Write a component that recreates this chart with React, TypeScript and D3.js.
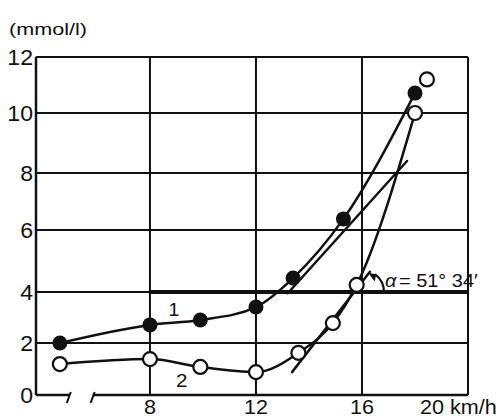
import React from "react";
import * as d3 from "d3";

// running speed (km/h) and blood lactate (mmol/l)
const speeds1 = [4.6, 8, 9.9, 12, 13.4, 15.3, 18];
const lactate1 = [2.0, 2.71, 2.9, 3.41, 4.45, 6.39, 10.71];
const speeds2 = [4.6, 8, 9.9, 12, 13.6, 14.9, 15.8, 18, 18.45];
const lactate2 = [1.19, 1.38, 1.08, 0.88, 1.62, 2.78, 4.23, 10.0, 11.2];
const curve2Count = 8; // last open point is not on the curve

// straight helper lines
const line1 = [
  [13.2, 3.95],
  [17.7, 8.4],
];
const tangent2 = [
  [13.36, 0.88],
  [16.3, 4.65],
];
const threshold = 4;
const thresholdFrom = 8;
const axisBreak = [4.9, 5.8];

const yTicks = [0, 2, 4, 6, 8, 10, 12];
const xTicks = [8, 12, 16, 20];
const xTickLabels = ["8", "12", "16", "20 km/h"];
const yUnit = "(mmol/l)";
const angleLabel = "= 51° 34′";

const FONT = "'Liberation Sans', Arial, Helvetica, sans-serif";

const Label = ({ x, y, size, sx = 1.08, anchor = "middle", italic = false, children }: any) => (
  <text
    transform={`translate(${x},${y}) scale(${sx},1)`}
    fontSize={size}
    fontFamily={FONT}
    fontStyle={italic ? "italic" : "normal"}
    textAnchor={anchor}
    fill="#111"
  >
    {children}
  </text>
);

export default function App() {
  const x = d3.scaleLinear().domain([3.7, 20]).range([36, 468]);
  // the printed grid is not quite even, so map each gridline
  const y = d3.scaleLinear().domain(yTicks).range([395, 343, 292, 230, 173, 113, 57]);

  const pts1 = speeds1.map((s, i) => [s, lactate1[i]]);
  const pts2 = speeds2.map((s, i) => [s, lactate2[i]]);

  const curve = d3
    .line<number[]>()
    .x((d) => x(d[0]))
    .y((d) => y(d[1]))
    .curve(d3.curveMonotoneX);
  const straight = d3
    .line<number[]>()
    .x((d) => x(d[0]))
    .y((d) => y(d[1]));

  const x0 = x.range()[0];
  const x1 = x.range()[1];
  const yTop = y(12);
  const yBot = y(0);

  // angle of the tangent on screen
  const cx = x(16);
  const cy = y(threshold);
  const ang = Math.atan2(
    y(tangent2[0][1]) - y(tangent2[1][1]),
    x(tangent2[1][0]) - x(tangent2[0][0])
  );
  const r = 22;
  const ax = cx + r * Math.cos(ang);
  const ay = cy - r * Math.sin(ang);

  return (
    <svg width={504} height={419} style={{ position: "absolute", left: 0, top: 0, background: "#fff" }}>
      {/* grid */}
      <g stroke="#111" strokeWidth={2} fill="none">
        {yTicks.slice(1).map((t) => (
          <line key={t} x1={x0} x2={x1} y1={y(t)} y2={y(t)} />
        ))}
        {xTicks.map((t) => (
          <line key={t} x1={x(t)} x2={x(t)} y1={yTop} y2={yBot} />
        ))}
        <line x1={x0} x2={x0} y1={yTop} y2={yBot} strokeWidth={2.5} />
        {/* broken x axis */}
        <line x1={x0} x2={x(axisBreak[0]) + 2} y1={yBot} y2={yBot} strokeWidth={2.5} />
        <line x1={x(axisBreak[1]) + 1} x2={x1} y1={yBot} y2={yBot} strokeWidth={2.5} />
        {axisBreak.map((b) => (
          <line key={b} x1={x(b) - 1} y1={yBot + 8} x2={x(b) + 3} y2={yBot - 3} strokeWidth={2} />
        ))}
        <line x1={x(thresholdFrom)} x2={x1} y1={y(threshold)} y2={y(threshold)} strokeWidth={4} />
      </g>

      {/* curves and helper lines */}
      <g stroke="#111" strokeWidth={2.5} fill="none" strokeLinecap="round">
        <path d={curve(pts1) || ""} />
        <path d={curve(pts2.slice(0, curve2Count)) || ""} />
        <path d={straight(line1) || ""} />
        <path d={straight(tangent2) || ""} />
        <path d={`M${cx + r},${cy} A${r},${r} 0 0 0 ${ax},${ay}`} strokeWidth={2.2} />
      </g>
      <path
        d={`M${ax},${ay} l${-6},${-1} l${5},${7} z`}
        fill="#111"
        stroke="#111"
        strokeWidth={1}
      />

      {/* markers */}
      {pts2.map((d, i) => (
        <circle key={"o" + i} cx={x(d[0])} cy={y(d[1])} r={7} fill="#fff" stroke="#111" strokeWidth={2.2} />
      ))}
      {pts1.map((d, i) => (
        <circle key={"f" + i} cx={x(d[0])} cy={y(d[1])} r={7.5} fill="#111" />
      ))}

      {/* labels */}
      <Label x={9} y={35} size={17} sx={1.27} anchor="start">
        {yUnit}
      </Label>
      {yTicks.map((t) => (
        <Label key={t} x={33} y={y(t) + 8} size={22} sx={1.05} anchor="end">
          {t}
        </Label>
      ))}
      {xTicks.map((t, i) =>
        i === xTicks.length - 1 ? (
          <Label key={t} x={x(t) - 48} y={414} size={20} sx={1.08} anchor="start">
            {xTickLabels[i]}
          </Label>
        ) : (
          <Label key={t} x={x(t)} y={414} size={20} sx={1.08}>
            {xTickLabels[i]}
          </Label>
        )
      )}
      <Label x={x(8.9)} y={316} size={18}>
        1
      </Label>
      <Label x={x(9.2)} y={387} size={19}>
        2
      </Label>
      <Label x={385} y={287} size={19} sx={1.05} anchor="start" italic>
        α
      </Label>
      <Label x={399} y={287} size={19} sx={1.05} anchor="start">
        {angleLabel}
      </Label>
    </svg>
  );
}
